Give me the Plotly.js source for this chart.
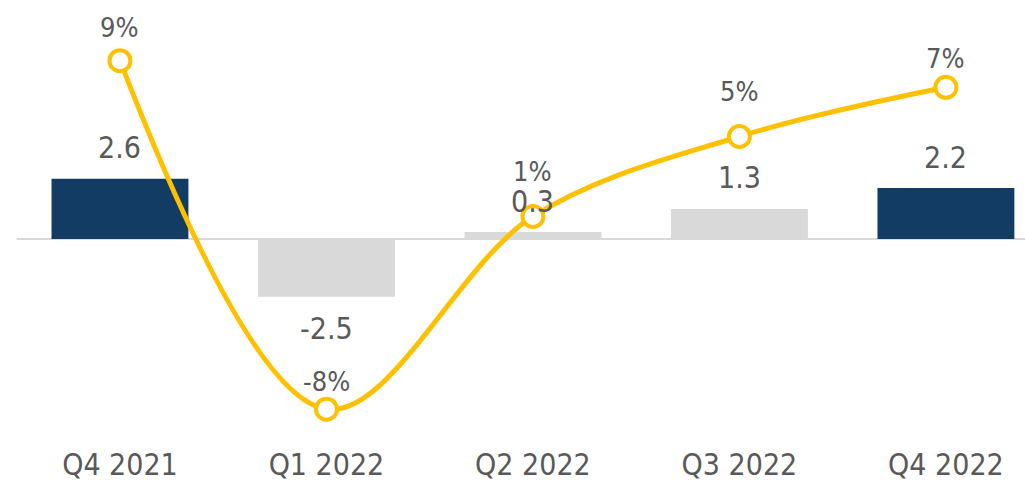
<!DOCTYPE html>
<html>
<head>
<meta charset="utf-8">
<script src="https://cdn.plot.ly/plotly-3.0.1.min.js"></script>
<style>html,body{margin:0;padding:0;background:#fff;}#chart{width:1025px;height:481px;}</style>
</head>
<body>
<div id="chart"></div>
<script>
const categories = ['Q4 2021', 'Q1 2022', 'Q2 2022', 'Q3 2022', 'Q4 2022'];
const barValues = [2.6, -2.5, 0.3, 1.3, 2.2];
const barColors = ['#133C64', '#D9D9D9', '#D9D9D9', '#D9D9D9', '#133C64'];
const lineValues = [8.7, -8.3, 1.1, 5.0, 7.4];
const pctLabels = ['9%', '-8%', '1%', '5%', '7%'];

const FONT = '"DejaVu Sans Condensed", "DejaVu Sans", sans-serif';
const TXT = '#595959';
const pctLift = [33, 28, 45, 45, 29];

const bars = {
  type: 'bar', x: categories, y: barValues, width: 0.663,
  marker: {color: barColors}, yaxis: 'y', hoverinfo: 'none'
};
const line = {
  type: 'scatter', mode: 'lines+markers', x: categories, y: lineValues, yaxis: 'y2',
  line: {color: '#FFC000', width: 5, shape: 'spline', smoothing: 1},
  marker: {size: 21, color: '#FFFFFF', line: {color: '#FFC000', width: 4}},
  cliponaxis: false, hoverinfo: 'none'
};

const annotations = [];
categories.forEach((c, i) => {
  annotations.push({
    x: c, y: barValues[i], xref: 'x', yref: 'y', text: String(barValues[i]),
    showarrow: false, yanchor: 'middle', yshift: barValues[i] >= 0 ? 31 : -32,
    font: {family: FONT, size: 30, color: TXT}
  });
  annotations.push({
    x: c, y: lineValues[i], xref: 'x', yref: 'y2', text: pctLabels[i],
    showarrow: false, yanchor: 'middle', yshift: pctLift[i],
    font: {family: FONT, size: 27, color: TXT}
  });
});

const layout = {
  width: 1025, height: 481,
  margin: {l: 0, r: 0, t: 20, b: 41},
  paper_bgcolor: '#FFFFFF', plot_bgcolor: '#FFFFFF',
  showlegend: false,
  xaxis: {type: 'category', range: [-0.581, 4.383], showgrid: false, zeroline: false,
    showline: false, ticks: '', ticklabelstandoff: 4,
    tickfont: {family: FONT, size: 30, color: TXT}},
  yaxis: {range: [-8.683, 9.460], visible: false, showgrid: false, zeroline: false},
  yaxis2: {range: [-9.805, 10.683], overlaying: 'y', visible: false, showgrid: false, zeroline: false},
  shapes: [{type: 'line', xref: 'x', yref: 'y', x0: -0.5, x1: 4.5, y0: 0, y1: 0,
    line: {color: '#D9D9D9', width: 2}, layer: 'below'}],
  annotations: annotations
};

Plotly.newPlot('chart', [bars, line], layout, {displayModeBar: false, staticPlot: true});
</script>
</body>
</html>
